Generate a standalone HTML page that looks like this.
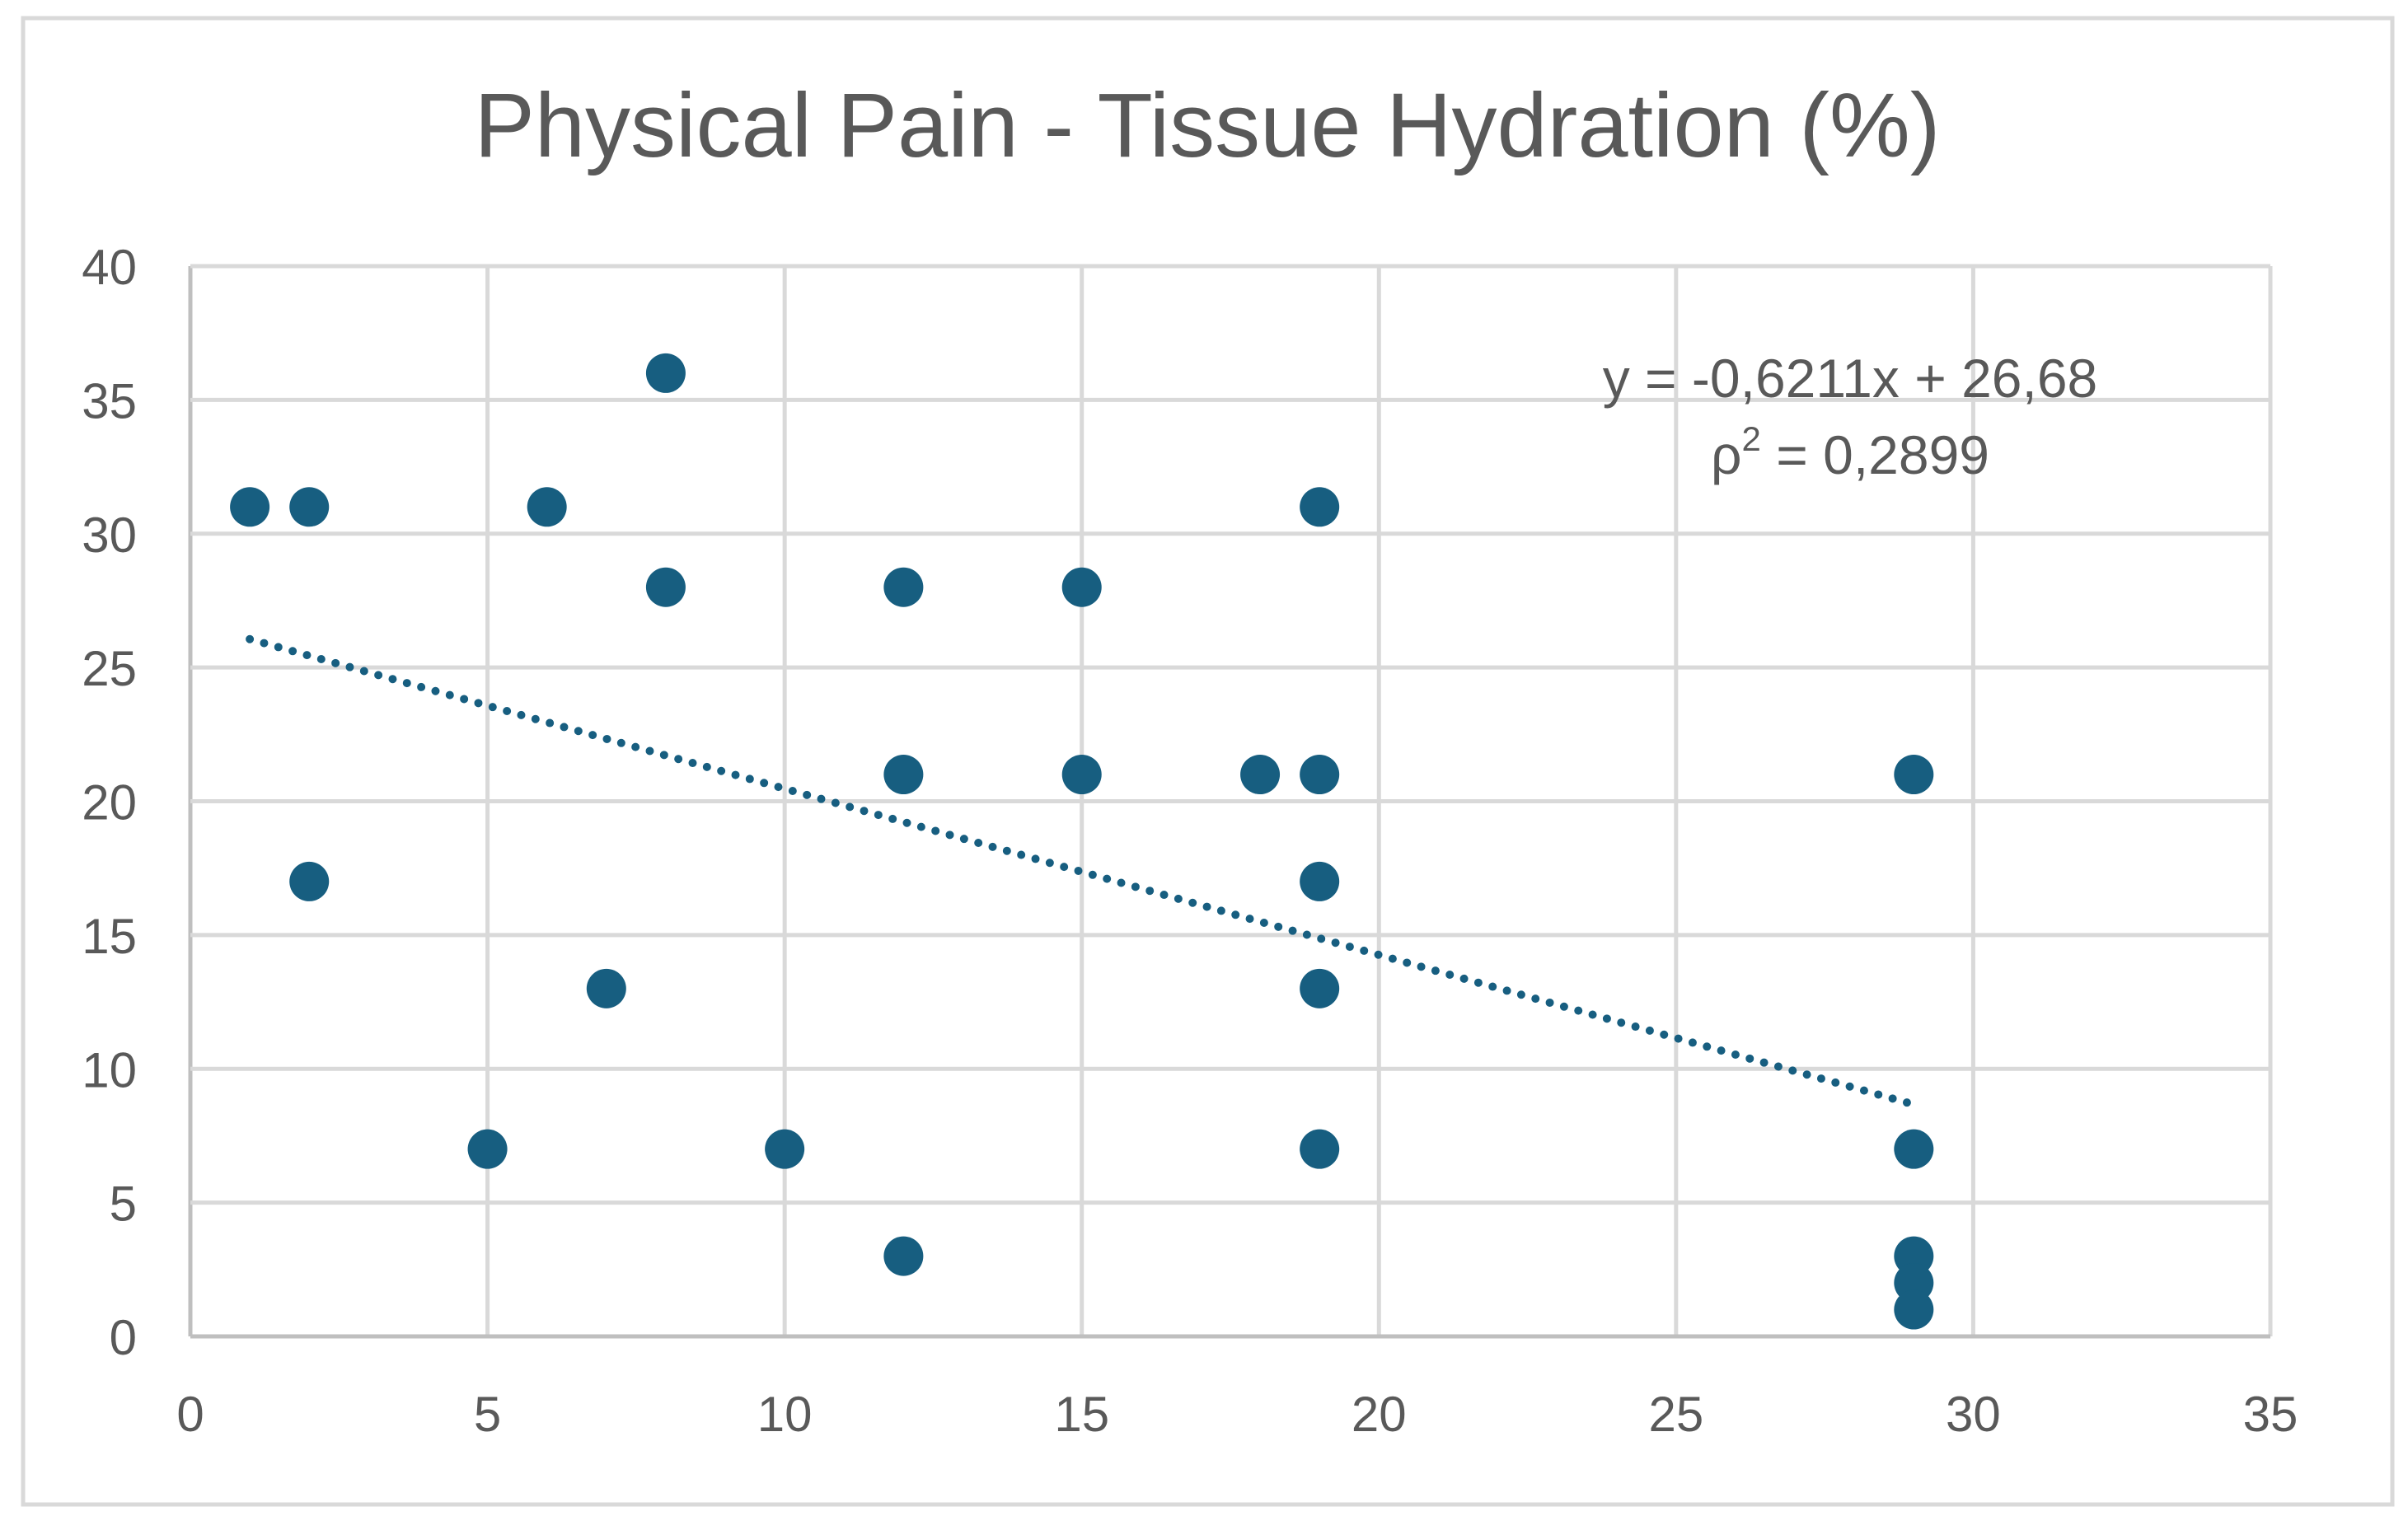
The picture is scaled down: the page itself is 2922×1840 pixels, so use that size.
<!DOCTYPE html>
<html><head><meta charset="utf-8"><style>
html,body{margin:0;padding:0;background:#fff;}
svg{display:block;font-family:"Liberation Sans",Arial,sans-serif;}
</style></head><body>
<svg id="chart" width="2922" height="1840" viewBox="0 0 2922 1840">
<rect x="28" y="22" width="2875" height="1804" fill="#fff" stroke="#d9d9d9" stroke-width="5"/>
<text x="1465" y="190" text-anchor="middle" font-size="110" fill="#595959">Physical Pain - Tissue Hydration (%)</text>
<g id="grid"></g><g id="axes"></g><g id="trend"></g><g id="points"></g><g id="labels"></g>
<text x="2245" y="482" text-anchor="middle" font-size="66" fill="#595959">y = -0,6211x + 26,68</text>
<text x="2245" y="575" text-anchor="middle" font-size="66" fill="#595959">ρ<tspan dy="-28" font-size="42">2</tspan><tspan dy="28"> = 0,2899</tspan></text>
</svg>
<script>
const xs=[1,2,2,5,6,7,8,8,10,12,12,12,15,15,18,19,19,19,19,19,29,29,29,29,29];
const ys=[31,31,17,7,31,13,36,28,7,28,21,3,28,21,21,31,21,17,13,7,21,7,3,2,1];
const xTicks=[0,5,10,15,20,25,30,35];
const yTicks=[0,5,10,15,20,25,30,35,40];
const slope=-0.6211, intercept=26.68;
const trendRange=[1,29];
const X0=231,X1=2755,Y0=1622,Y1=323;
const sx=v=>X0+(v-0)/(35-0)*(X1-X0);
const sy=v=>Y0-(v-0)/(40-0)*(Y0-Y1);
const NS="http://www.w3.org/2000/svg";
function mk(tag,attrs,parent){const e=document.createElementNS(NS,tag);for(const k in attrs)e.setAttribute(k,attrs[k]);document.getElementById(parent).appendChild(e);return e;}
xTicks.forEach(t=>{
 const l=mk('line',{x1:sx(t),x2:sx(t),y1:Y1,y2:Y0,stroke:t===0?'#bfbfbf':'#d9d9d9','stroke-width':5},'grid');
 
 
 const tx=mk('text',{x:sx(t),y:Y0+115,'text-anchor':'middle','font-size':60,fill:'#595959'},'labels');
 tx.textContent=t;
 
 
});
yTicks.forEach(t=>{
 const l=mk('line',{x1:X0,x2:X1,y1:sy(t),y2:sy(t),stroke:t===0?'#bfbfbf':'#d9d9d9','stroke-width':5},'grid');
 
 
 const tx=mk('text',{x:166,y:sy(t)+22,'text-anchor':'end','font-size':60,fill:'#595959'},'labels');
 tx.textContent=t;
 
 
});
const tl=mk('line',{x1:sx(trendRange[0]),y1:sy(slope*trendRange[0]+intercept),x2:sx(trendRange[1]),y2:sy(slope*trendRange[1]+intercept),stroke:'#175e80','stroke-width':10,'stroke-dasharray':'0 18','stroke-linecap':'round'},'trend');


xs.forEach((x,i)=>{
 const c=mk('circle',{cx:sx(x),cy:sy(ys[i]),r:24,fill:'#175e80'},'points');
 
 
});
</script>
</body></html>
